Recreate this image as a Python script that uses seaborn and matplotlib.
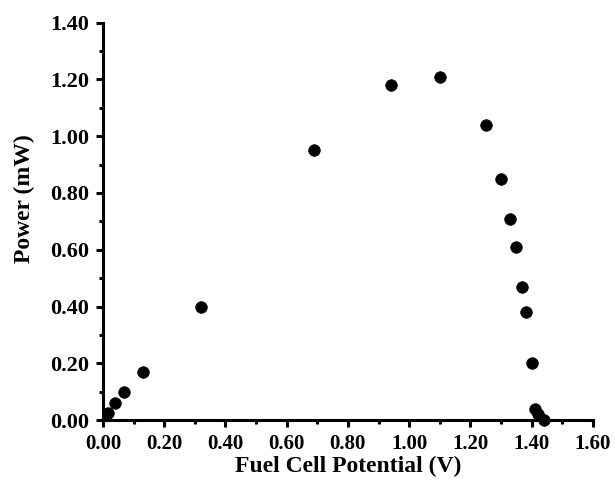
import matplotlib
matplotlib.use("Agg")
import matplotlib.pyplot as plt
from matplotlib.ticker import MultipleLocator, FormatStrFormatter
import seaborn as sns
import pandas as pd

# Fuel cell polarization data: potential (V) vs power (mW)
potential_v = [0.015, 0.04, 0.07, 0.13, 0.32, 0.69, 0.94, 1.10, 1.25, 1.30,
               1.33, 1.35, 1.37, 1.38, 1.40, 1.41, 1.42, 1.44]
power_mw = [0.025, 0.06, 0.10, 0.17, 0.40, 0.95, 1.18, 1.21, 1.04, 0.85,
            0.71, 0.61, 0.47, 0.38, 0.20, 0.04, 0.02, 0.00]

df = pd.DataFrame({"Fuel Cell Potential (V)": potential_v, "Power (mW)": power_mw})

sns.set_style("ticks")
plt.rcParams["font.family"] = ["Liberation Serif", "DejaVu Serif"]
plt.rcParams["font.weight"] = "bold"
plt.rcParams["text.color"] = "black"
plt.rcParams["axes.labelcolor"] = "black"
plt.rcParams["xtick.color"] = "black"
plt.rcParams["ytick.color"] = "black"

fig = plt.figure(figsize=(6.15, 4.93), dpi=100)
ax = fig.add_axes([0.1675, 0.148, 0.7965, 0.806])

sns.scatterplot(data=df, x="Fuel Cell Potential (V)", y="Power (mW)", ax=ax,
                color="black", s=70, edgecolor="black", linewidth=0.5,
                clip_on=False, zorder=3)

ax.set_xlim(0, 1.6)
ax.set_ylim(0, 1.4)
ax.xaxis.set_major_locator(MultipleLocator(0.2))
ax.xaxis.set_minor_locator(MultipleLocator(0.1))
ax.yaxis.set_major_locator(MultipleLocator(0.2))
ax.yaxis.set_minor_locator(MultipleLocator(0.1))
ax.xaxis.set_major_formatter(FormatStrFormatter("%.2f"))
ax.yaxis.set_major_formatter(FormatStrFormatter("%.2f"))

for side in ("top", "right"):
    ax.spines[side].set_visible(False)
for side in ("left", "bottom"):
    ax.spines[side].set_linewidth(2.2)
    ax.spines[side].set_color("black")

ax.tick_params(which="major", direction="out", length=5, width=2.2,
               colors="black", labelcolor="black")
ax.tick_params(which="minor", direction="out", length=3, width=2.2, colors="black")
ax.tick_params(axis="y", which="major", labelsize=16, pad=5)
ax.tick_params(axis="x", which="major", labelsize=15, pad=5)
for lbl in ax.get_xticklabels() + ax.get_yticklabels():
    lbl.set_fontweight("bold")

ax.set_xlabel("Fuel Cell Potential (V)", fontsize=17, fontweight="bold",
              va="center", color="black")
ax.set_ylabel("Power (mW)", fontsize=17, fontweight="bold",
              va="center", color="black")
ax.xaxis.set_label_coords(0.5, -0.116)
ax.yaxis.set_label_coords(-0.161, 0.556)

fig.savefig("out.png", dpi=100)
